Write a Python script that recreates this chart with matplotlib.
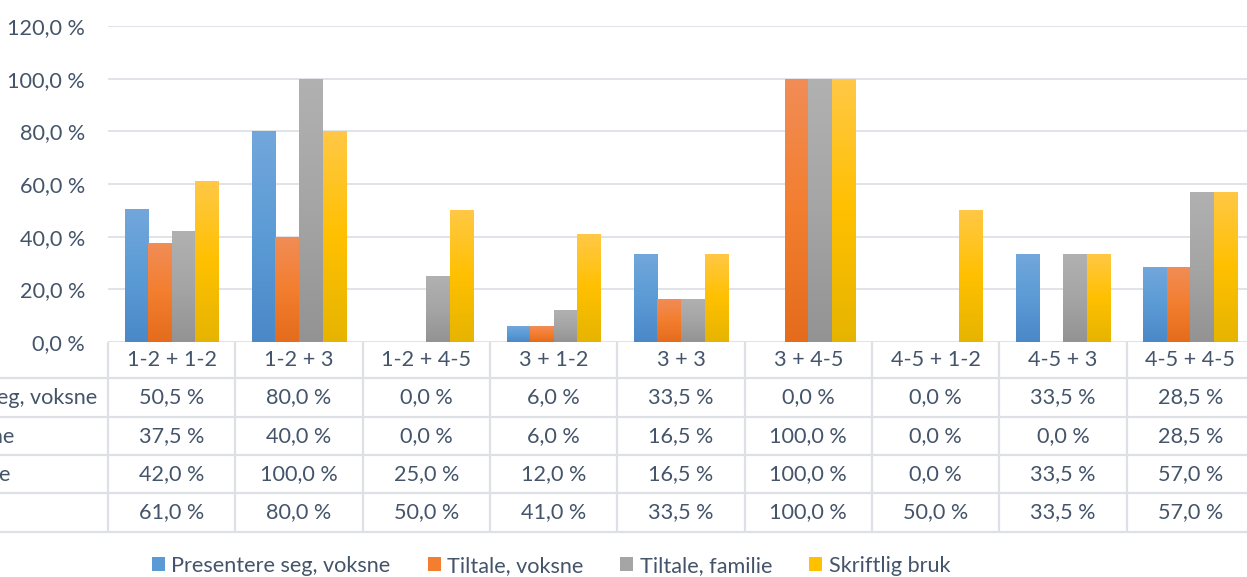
import numpy as np
import matplotlib
matplotlib.use('Agg')
import matplotlib.pyplot as plt
from matplotlib.colors import LinearSegmentedColormap
from matplotlib.patches import Patch
import matplotlib.transforms as mtransforms

categories = ["1-2 + 1-2", "1-2 + 3", "1-2 + 4-5", "3 + 1-2", "3 + 3",
              "3 + 4-5", "4-5 + 1-2", "4-5 + 3", "4-5 + 4-5"]
series_names = ["Presentere seg, voksne", "Tiltale, voksne", "Tiltale, familie", "Skriftlig bruk"]
presentere = [50.5, 80.0, 0.0, 6.0, 33.5, 0.0, 0.0, 33.5, 28.5]
tiltale_voksne = [37.5, 40.0, 0.0, 6.0, 16.5, 100.0, 0.0, 0.0, 28.5]
tiltale_familie = [42.0, 100.0, 25.0, 12.0, 16.5, 100.0, 0.0, 33.5, 57.0]
skriftlig = [61.0, 80.0, 50.0, 41.0, 33.5, 100.0, 50.0, 33.5, 57.0]
yticks = [0, 20, 40, 60, 80, 100, 120]

series = [presentere, tiltale_voksne, tiltale_familie, skriftlig]
# gradient (bottom, middle, top)
grads = [
    ("#4A88C8", "#5B9BD5", "#72A7DC"),
    ("#E46C1C", "#F37E2F", "#F18D57"),
    ("#939393", "#A5A5A5", "#B1B1B1"),
    ("#E6B400", "#FFC000", "#FFC846"),
]

TXT = "#44546A"
GRID = "#DDE1E6"
FONT = "Lato"
FS = 15.6

plt.rcParams['font.family'] = [FONT, 'DejaVu Sans']

W, H = 1247, 577
fig = plt.figure(figsize=(W / 100, H / 100), dpi=100)
ax_h_px = 316
ax = fig.add_axes([108 / W, (H - 342) / H, 1146 / W, ax_h_px / H])

x = np.arange(len(categories))
bw = 0.185
grad_img = np.linspace(0, 1, 256).reshape(-1, 1)
for i, (vals, g) in enumerate(zip(series, grads)):
    cmap = LinearSegmentedColormap.from_list(f"g{i}", list(g))
    bars = ax.bar(x + (i - 1.5) * bw, vals, width=bw, color=g[1], linewidth=0, zorder=2)
    for b in bars:
        h = b.get_height()
        if h <= 0:
            continue
        x0 = b.get_x()
        im = ax.imshow(grad_img, cmap=cmap, origin='lower', aspect='auto',
                       extent=(x0, x0 + b.get_width(), 0, h), zorder=3,
                       interpolation='bilinear')
        im.set_clip_path(b)

ax.set_xlim(-0.5, len(categories) - 0.5)
ax.set_ylim(0, 120)
ax.set_aspect('auto')
ax.set_yticks(yticks)
ax.set_yticklabels([f"{v:.1f}".replace('.', ',') + " %" for v in yticks],
                   fontsize=FS, color=TXT)
ax.tick_params(axis='y', length=0, pad=16.5)
ax.set_xticks([])
for s in ax.spines.values():
    s.set_visible(False)
ax.yaxis.grid(True, color=GRID, linewidth=1.3, zorder=0)
ax.set_axisbelow(True)

# data table
trans = mtransforms.blended_transform_factory(ax.transData, ax.transAxes)
row_edges_px = [0, 36, 75, 113, 151, 190]
def fy(px):
    return -px / ax_h_px

for k in range(len(categories) + 1):
    xx = k - 0.5
    ax.plot([xx, xx], [fy(0), fy(row_edges_px[-1])], color=GRID, lw=1.6,
            transform=trans, clip_on=False, solid_capstyle='butt')
for e in row_edges_px[1:]:
    ax.plot([-3, len(categories) - 0.5], [fy(e), fy(e)], color=GRID, lw=1.6,
            transform=trans, clip_on=False, solid_capstyle='butt')

hdr_y = fy((row_edges_px[0] + row_edges_px[1]) / 2)
for i, c in enumerate(categories):
    ax.text(i, hdr_y, c, transform=trans, ha='center', va='center',
            fontsize=FS, color=TXT, clip_on=False)

lab_trans = mtransforms.blended_transform_factory(fig.transFigure, ax.transAxes)
for r, (name, vals) in enumerate(zip(series_names, series)):
    yc = fy((row_edges_px[r + 1] + row_edges_px[r + 2]) / 2)
    ax.text(-122 / W, yc, name, transform=lab_trans, ha='left', va='center',
            fontsize=FS, color=TXT, clip_on=False)
    for i, v in enumerate(vals):
        ax.text(i, yc, f"{v:.1f}".replace('.', ',') + " %", transform=trans,
                ha='center', va='center', fontsize=FS, color=TXT, clip_on=False)

handles = [Patch(facecolor=g[1], edgecolor='none') for g in grads]
leg = fig.legend(handles, series_names, loc='center', bbox_to_anchor=(551 / W, 11 / H),
                 ncol=4, frameon=False, handlelength=0.6, handleheight=0.6,
                 handletextpad=0.3, columnspacing=1.7, borderaxespad=0,
                 prop={'size': FS, 'family': FONT})
for t in leg.get_texts():
    t.set_color(TXT)

fig.savefig("out.png", dpi=100)
